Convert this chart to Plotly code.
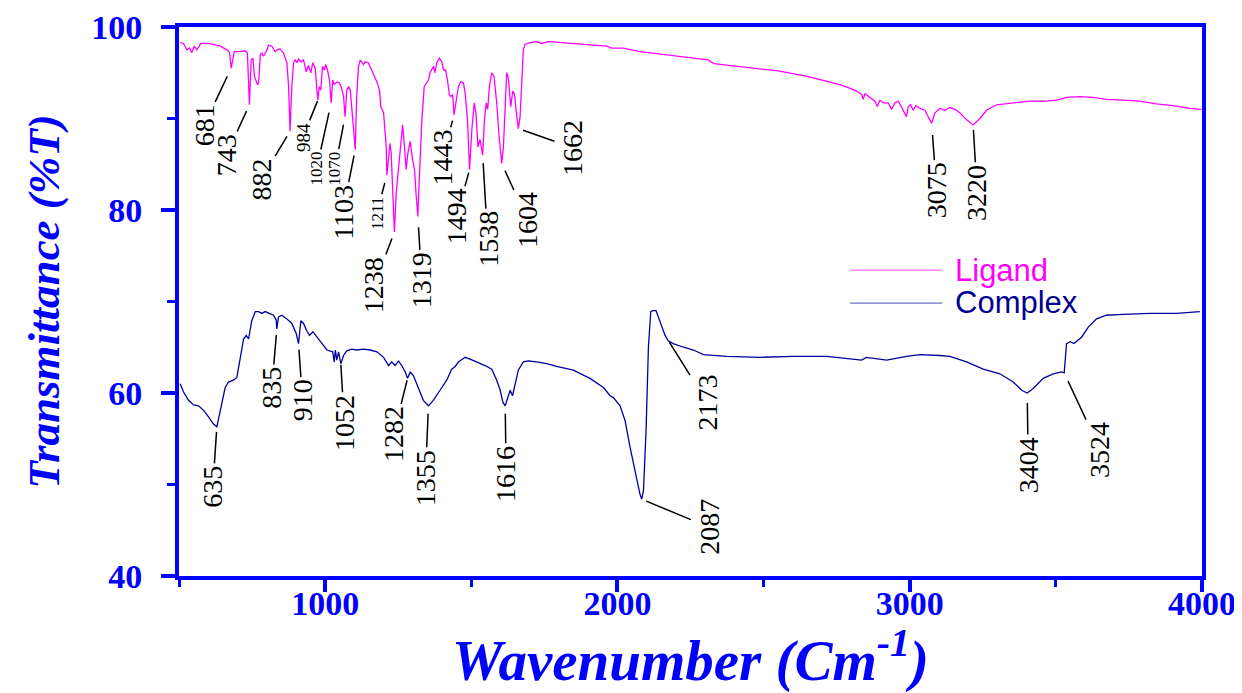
import plotly.graph_objects as go

# ---------------- data ----------------
lig_x = [504, 515.5, 527, 536, 544, 552, 561, 575, 595, 618, 641, 664, 673, 678.5, 684, 689, 709, 726, 734,
         741, 747, 753, 758, 764, 769, 773, 778, 783.5, 789, 801, 806, 818, 829, 835, 846, 857.5, 869, 875,
         880, 886, 892, 897.5, 903, 909, 917, 926, 935, 943, 951, 958, 966, 972, 975, 980, 985, 991, 997,
         1002, 1008, 1015, 1020.5, 1026, 1031, 1036.5, 1042, 1048, 1055, 1063, 1068, 1074, 1080, 1086, 1095,
         1103, 1108, 1114, 1120, 1125, 1131, 1137, 1148, 1160, 1177, 1186, 1190.5, 1200, 1209, 1211, 1217,
         1222, 1226, 1231.5, 1237, 1243, 1249, 1257, 1265, 1271.5, 1277, 1283, 1291, 1299, 1306, 1311, 1317,
         1323, 1331, 1339, 1348, 1353.5, 1359, 1365, 1371, 1376, 1382, 1391, 1399, 1405, 1412, 1418.5, 1425,
         1430, 1436, 1441, 1448, 1456, 1464, 1473, 1479, 1487, 1494, 1502, 1510, 1516, 1523, 1530, 1539,
         1545, 1551, 1556, 1562, 1570, 1578, 1587, 1596, 1604, 1610, 1616, 1621, 1627, 1635, 1642, 1648,
         1653, 1661, 1667, 1673, 1678, 1684, 1701, 1724, 1741, 1764, 1804, 1849, 1906, 1963, 1980, 2020,
         2077, 2150, 2250, 2310, 2330, 2450, 2550, 2650, 2700, 2761, 2796, 2818, 2836, 2841, 2847, 2864,
         2881, 2889, 2898, 2910, 2927, 2938, 2949, 2961, 2972, 2989, 2995, 3003, 3012, 3021, 3035, 3052,
         3063, 3075, 3086, 3103, 3120, 3138, 3155, 3172, 3195, 3217, 3240, 3263, 3297, 3354, 3411, 3468,
         3502, 3537, 3582, 3628, 3673, 3730, 3787, 3844, 3901, 3958, 3998]
lig_y = [98.3, 98.2, 97.5, 97.7, 97.2, 97.9, 97.5, 98.2, 98.2, 98.1, 97.9, 97.5, 97.2, 95.5, 96.4, 97.3, 97.3, 97.4, 97.15,
         91.5, 96.4, 96.6, 94.6, 94.2, 93.7, 94.0, 97.0, 97.15, 96.8, 97.5, 98.0, 97.9, 97.3, 97.5, 97.6, 97.15, 96.1, 93.5,
         88.6, 93.5, 96.1, 96.4, 96.1, 96.5, 96.2, 96.4, 95.1, 95.8, 95.0, 96.1, 95.5, 93.1, 92.0, 93.5, 93.1, 95.7, 95.3,
         95.9, 95.3, 94.2, 91.7, 94.2, 93.7, 93.9, 94.0, 93.9, 93.5, 92.4, 90.2, 93.1, 93.5, 93.1, 89.85,
         86.6, 92.4, 95.7, 96.35, 96.2, 95.9, 96.2, 96.1, 95.3, 94.0, 93.1, 91.3, 90.6, 86.9, 83.8, 86.2,
         87.3, 86.2, 82.55, 77.6, 81.8, 84.0, 86.2, 89.3, 86.9, 84.4, 86.2, 87.5, 85.5, 84.4, 81.8, 79.3,
         84.0, 89.85, 93.5, 93.9, 94.2, 95.0, 95.3, 95.7, 95.0, 96.1, 96.6, 96.2, 95.3, 95.3, 94.2, 92.6,
         92.4, 92.6, 90.4, 92.0, 93.5, 94.0, 93.9, 92.8, 89.85, 84.4, 88.8, 91.7, 90.6, 86.9, 87.7, 86.0,
         89.85, 91.7, 91.0, 93.5, 95.0, 94.6, 91.7, 87.7, 85.1, 86.9, 91.7, 95.0, 94.4, 91.3, 93.0, 92.6,
         91.0, 88.9, 90.2, 95.3, 97.5, 98.1, 98.3, 98.4, 98.2, 98.4, 98.3, 98.2, 98.1, 97.9, 97.7, 97.7,
         97.3, 97.0, 96.6, 96.4, 96.0, 95.6, 95.2, 94.6, 94.2, 93.7, 93.3, 93.0, 92.6, 92.1, 92.7, 92.3,
         91.9, 91.3, 92.0, 91.7, 91.7, 91.0, 91.7, 91.9, 91.2, 90.2, 91.3, 91.5, 90.9, 91.4, 91.1, 90.9,
         90.2, 89.5, 90.6, 91.1, 90.9, 91.2, 91.0, 90.6, 89.85, 89.3, 90.0, 90.9, 91.5, 91.7, 91.9, 91.9,
         92.0, 92.3, 92.4, 92.3, 92.1, 92.0, 91.9, 91.6, 91.4, 91.1, 91.0]

cpx_x = [504, 515.5, 532.6, 550, 567, 584, 601, 618, 629.5, 639, 647, 658, 669.4, 686.5, 698, 709, 721, 730,
         738, 749, 761, 772, 783.5, 795, 812, 823, 832.4, 834.7, 840.4, 852, 869, 886, 901, 909, 917, 926,
         937, 946.5, 958, 972, 989, 1006, 1026, 1031, 1035, 1040, 1046, 1053.6, 1063, 1074, 1091, 1108,
         1131, 1154, 1177, 1200, 1217, 1228, 1239, 1251, 1262, 1274, 1282, 1291, 1302, 1319, 1336, 1353.4,
         1370, 1393, 1416, 1433, 1445, 1456, 1467, 1479, 1496, 1519, 1547, 1570, 1587, 1599, 1608, 1616,
         1624, 1633, 1641, 1650, 1661, 1678, 1695, 1724, 1758, 1792, 1849, 1906, 1952, 1975, 1986, 2009,
         2026, 2043, 2060, 2077, 2083, 2089, 2098, 2106, 2114, 2121, 2132, 2140, 2151, 2163, 2174, 2191,
         2226, 2260, 2294, 2328, 2374, 2488, 2602, 2716, 2807, 2835, 2852, 2898, 2921, 2989, 3035, 3103,
         3137.5, 3194.5, 3251.5, 3308.5, 3354, 3383, 3402, 3422.5, 3457, 3491, 3519, 3528.5, 3536.5, 3550,
         3562, 3588, 3611, 3639, 3673, 3730, 3821.5, 3913, 3992.5]
cpx_y = [61.0, 60.1, 59.2, 58.7, 58.6, 58.1, 57.4, 56.6, 56.3, 57.7, 59.2, 60.6, 61.2, 61.4, 61.7, 63.6, 65.9, 66.3,
         65.9, 67.9, 68.9, 68.9, 68.7, 68.9, 68.7, 68.5, 68.0, 67.0, 68.3, 68.5, 68.1, 67.6, 66.5, 65.4, 67.9, 67.6,
         66.8, 66.3, 66.7, 66.1, 65.4, 64.7, 64.5, 63.4, 64.7, 63.6, 64.5, 63.2, 64.1, 64.6, 64.8, 64.7,
         64.8, 64.7, 64.5, 63.9, 63.0, 63.4, 63.0, 63.5, 63.0, 62.3, 61.6, 62.3, 61.9, 60.6, 59.2, 58.6,
         59.2, 60.3, 61.4, 62.6, 62.9, 63.4, 63.6, 63.9, 63.7, 63.4, 63.0, 62.6, 61.4, 60.3, 59.0, 58.6,
         59.4, 60.3, 59.7, 61.0, 62.5, 63.4, 63.5, 63.4, 63.2, 62.9, 62.5, 61.6, 60.6, 59.7, 59.5, 58.6,
         57.0, 54.1, 51.5, 48.96, 48.4, 49.3, 55.9, 65.0, 68.9, 69.0, 69.0, 68.3, 67.2, 66.3, 65.7, 65.4,
         65.0, 64.7, 64.2, 64.1, 64.0, 63.9, 64.0, 64.0, 63.7, 63.6, 63.9, 63.7, 63.6, 64.0, 64.2, 64.1,
         64.0, 63.4, 62.6, 62.1, 61.2, 60.3, 60.0, 60.5, 61.6, 62.1, 62.3, 62.2, 65.4, 65.6,
         65.4, 66.1, 67.2, 68.1, 68.5, 68.6, 68.7, 68.7, 68.9]

# peak labels
lig_labels = ["681", "743", "882", "984", "1020", "1070", "1103", "1211", "1238", "1319",
              "1443", "1494", "1538", "1604", "1662", "3075", "3220"]
lig_peak_x = [678.5, 741, 880, 975, 1020.5, 1068, 1103, 1211, 1237, 1317,
              1441, 1494, 1539, 1604, 1661, 3075, 3217]
lig_peak_y = [95.5, 91.5, 88.6, 92.0, 91.7, 90.2, 86.6, 83.8, 77.6, 79.3,
              90.4, 84.4, 86.0, 85.1, 88.9, 89.5, 89.3]

cpx_labels = ["635", "835", "910", "1052", "1282", "1355", "1616", "2087", "2173", "3404", "3524"]
cpx_peak_x = [629.5, 834.7, 909, 1053.6, 1282, 1353.4, 1616, 2083, 2163, 3402, 3528.5]
cpx_peak_y = [56.3, 67.0, 65.4, 63.2, 61.6, 58.6, 58.6, 48.4, 66.3, 60.0, 62.2]

# ---------------- label placement (layout, pixels) ----------------
lig_dx = [-27, -23, -29, -15, -14.5, -10, -12.5, -10, -20, 4, -11.5, -13, 5, 26, 54, 5, 4]
lig_dy = [57, 50, 48, 37, 66, 52, 62.5, 38, 53, 64, 43, 47, 84, 57, 19, 67.6, 68]
lig_gap = [9, 7, 6, 1, 10, 8, 6, 8, 7, 11, 6, 3, 8, 8, 5, 12, 5]
lig_size = [28, 28, 28, 19, 17, 17, 28, 17, 28, 28, 28, 28, 28, 28, 28, 28, 28]

cpx_dx = [-4, -5, 4, 3.5, -14, -3, 1, 67, 42, 1, 36]
cpx_dy = [60, 59, 57, 59, 56, 72, 68, 28, 67, 72, 77]
cpx_gap = [5, 6, 6, 1, 2, 8, 8, 5, 8, 10, 9]
cpx_size = [28] * 11

BLUE = "#0000ff"
SERIF = "Liberation Serif"

fig = go.Figure()
fig.add_trace(go.Scatter(x=lig_x, y=lig_y, mode="lines", name="Ligand",
                         line=dict(color="#ff00ff", width=1.3)))
fig.add_trace(go.Scatter(x=cpx_x, y=cpx_y, mode="lines", name="Complex",
                         line=dict(color="#0000a0", width=1.3)))

annotations = []
for labels, px, py, dx, dy, gap, size in [
    (lig_labels, lig_peak_x, lig_peak_y, lig_dx, lig_dy, lig_gap, lig_size),
    (cpx_labels, cpx_peak_x, cpx_peak_y, cpx_dx, cpx_dy, cpx_gap, cpx_size),
]:
    for i, t in enumerate(labels):
        annotations.append(dict(
            x=px[i], y=py[i], xref="x", yref="y", text=t, textangle=-90,
            showarrow=True, arrowhead=0, arrowwidth=1.5, arrowcolor="black",
            ax=dx[i], ay=dy[i], standoff=gap[i], startstandoff=2,
            font=dict(family=SERIF, size=size[i], color="black"),
            borderpad=0,
        ))

# custom legend text
annotations.append(dict(x=0.757, y=0.5556, xref="paper", yref="paper", text="Ligand",
                        showarrow=False, xanchor="left", yanchor="middle",
                        font=dict(family="Liberation Sans", size=31, color="#ff00ff")))
annotations.append(dict(x=0.757, y=0.4973, xref="paper", yref="paper", text="Complex",
                        showarrow=False, xanchor="left", yanchor="middle",
                        font=dict(family="Liberation Sans", size=31, color="#000090")))

shapes = [
    dict(type="line", xref="paper", yref="paper", x0=0.656, x1=0.746, y0=0.557, y1=0.557,
         line=dict(color="#ff70ff", width=1.3)),
    dict(type="line", xref="paper", yref="paper", x0=0.656, x1=0.746, y0=0.497, y1=0.497,
         line=dict(color="#7070c8", width=1.3)),
]

tickfont = dict(family=SERIF, size=34, color=BLUE, weight="bold")
titlefont_x = dict(family=SERIF, size=57, color=BLUE, weight="bold", style="italic")
titlefont_y = dict(family=SERIF, size=45, color=BLUE, weight="bold", style="italic")

# the page body adds an 8px margin, so the figure is sized to fill the rest of the window
fig.update_layout(
    width=1234, height=685,
    margin=dict(l=171, r=40, t=19, b=117),
    paper_bgcolor="white", plot_bgcolor="white",
    showlegend=False,
    annotations=annotations,
    shapes=shapes,
    xaxis=dict(
        range=[500, 4000], tickmode="linear", tick0=0, dtick=1000, automargin=False,
        ticks="outside", ticklen=12, tickwidth=4, tickcolor=BLUE,
        showline=True, linecolor=BLUE, linewidth=4, mirror=True,
        showgrid=False, zeroline=False, tickfont=tickfont, ticklabelstandoff=-18,
        minor=dict(dtick=500, tick0=0, ticks="outside", ticklen=7, tickwidth=3,
                   tickcolor=BLUE, showgrid=False),
        title=dict(text="Wavenumber (Cm<sup>-1</sup>)", font=titlefont_x, standoff=28),
    ),
    yaxis=dict(
        range=[40, 100], tickmode="linear", tick0=0, dtick=20, automargin=False,
        ticks="outside", ticklen=14, tickwidth=4, tickcolor=BLUE,
        showline=True, linecolor=BLUE, linewidth=4, mirror=True,
        showgrid=False, zeroline=False, tickfont=tickfont, ticklabelstandoff=12,
        minor=dict(dtick=10, tick0=0, ticks="outside", ticklen=8, tickwidth=3,
                   tickcolor=BLUE, showgrid=False),
        title=dict(text="Transmittance (%T)", font=titlefont_y, standoff=18),
    ),
)

fig.write_html("out.html")
